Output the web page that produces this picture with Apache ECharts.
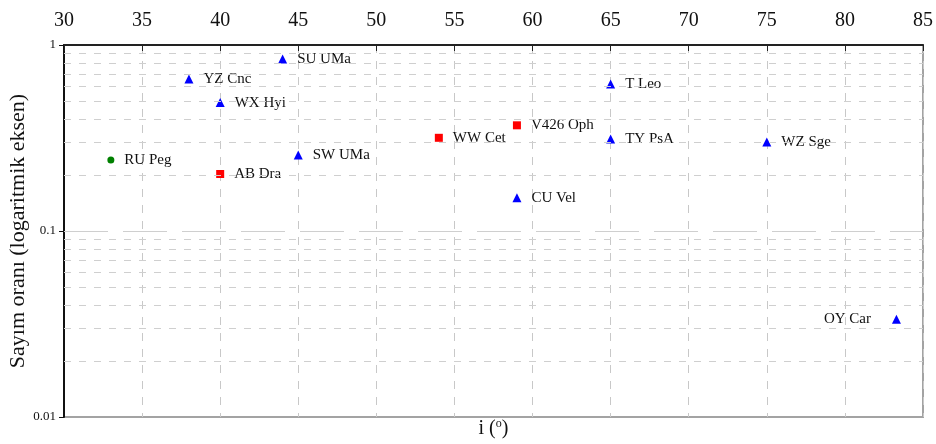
<!DOCTYPE html>
<html>
<head>
<meta charset="utf-8">
<script src="https://cdn.jsdelivr.net/npm/echarts@6/dist/echarts.min.js"></script>
<style>html,body{margin:0;padding:0;background:#fff;}#c{width:936px;height:444px;}</style>
</head>
<body>
<div id="c"></div>
<script>
// Data
const blueNames = ['SU UMa','YZ Cnc','WX Hyi','SW UMa','CU Vel','T Leo','TY PsA','WZ Sge','OY Car'];
const blueX     = [44, 38, 40, 45, 59, 65, 65, 75, 83.3];
const blueY     = [0.84, 0.656, 0.49, 0.256, 0.151, 0.617, 0.312, 0.301, 0.0335];
const redNames  = ['AB Dra','WW Cet','V426 Oph'];
const redX      = [40, 54, 59];
const redY      = [0.2025, 0.317, 0.37];
const greenNames = ['RU Peg'];
const greenX     = [33];
const greenY     = [0.241];
const majorGridValues = [0.1];
const minorGridValues = [0.02,0.03,0.04,0.05,0.06,0.07,0.08,0.09,0.2,0.3,0.4,0.5,0.6,0.7,0.8,0.9];
const xTicks = [30,35,40,45,50,55,60,65,70,75,80,85];

const FONT = '"Liberation Serif", "Times New Roman", serif';

function pts(names, xs, ys) {
  return names.map((n, i) => ({ name: n, value: [xs[i], ys[i]] }));
}
const labelRight = { show: true, position: 'right', distance: 10, formatter: '{b}', fontFamily: FONT, fontSize: 15, color: '#111' };

const blueData = pts(blueNames, blueX, blueY).map(d => d.name === 'OY Car'
  ? Object.assign(d, { label: { position: 'left', distance: 21 } }) : d);

const chart = echarts.init(document.getElementById('c'), null, { renderer: 'canvas' });
chart.setOption({
  animation: false,
  backgroundColor: '#fff',
  grid: { left: 64, right: 13, top: 45, bottom: 27, outerBoundsMode: 'none', containLabel: false,
    show: true, borderColor: '#a3a3a3', borderWidth: 2, backgroundColor: 'transparent' },
  xAxis: [{
    type: 'value', position: 'top', min: 30, max: 85, interval: 5,
    axisLine: { show: true, lineStyle: { color: '#222', width: 2 } },
    axisTick: { show: true, inside: true, length: 6, lineStyle: { color: '#222' } },
    axisLabel: { fontFamily: FONT, fontSize: 20, color: '#111', margin: 14,
      formatter: v => xTicks.includes(v) ? String(v) : '' },
    splitLine: { show: true, lineStyle: { color: '#c8c8c8', type: [8, 8], width: 1 } }
  }, {
    type: 'value', position: 'bottom', min: 30, max: 85, interval: 5,
    axisLine: { show: false }, axisTick: { show: false }, axisLabel: { show: false }, splitLine: { show: false },
    name: '{a|i (}{s|o}{a|)}', nameLocation: 'middle', nameGap: 1, nameMoveOverlap: false,
    nameTextStyle: { rich: {
      a: { fontFamily: FONT, fontSize: 20, color: '#111' },
      s: { fontFamily: FONT, fontSize: 12, color: '#111', verticalAlign: 'top', padding: [0, 0, 9, 0] }
    } }
  }],
  yAxis: {
    type: 'log', logBase: 10, min: 0.01, max: 1,
    axisLine: { show: true, lineStyle: { color: '#111', width: 2 } },
    axisTick: { show: true, length: 5, lineStyle: { color: '#111' } },
    axisLabel: { fontFamily: FONT, fontSize: 13, color: '#111', margin: 8,
      formatter: v => (v >= 0.999 ? '1' : (v > 0.05 ? '0.1' : '0.01')) },
    splitLine: { show: false },
    name: 'Sayım oranı (logaritmik eksen)', nameLocation: 'middle', nameGap: 35, nameMoveOverlap: false,
    nameTextStyle: { fontFamily: FONT, fontSize: 22, color: '#111' }
  },
  series: [{
    type: 'scatter', name: 'blue', symbol: 'triangle', symbolSize: 9,
    itemStyle: { color: '#0000ff', opacity: 1 }, label: labelRight,
    data: blueData,
    markLine: {
      silent: true, symbol: ['none', 'none'], label: { show: false },
      lineStyle: { color: '#cfcfcf', type: [44, 15], width: 1 },
      emphasis: { disabled: true },
      data: majorGridValues.map(v => ({ yAxis: v }))
    }
  }, {
    type: 'scatter', name: 'red', symbol: 'rect', symbolSize: 8,
    itemStyle: { color: '#ff0000', opacity: 1 }, label: labelRight,
    data: pts(redNames, redX, redY)
  }, {
    type: 'scatter', name: 'green', symbol: 'circle', symbolSize: 7,
    itemStyle: { color: '#008000', opacity: 1 }, label: labelRight,
    data: pts(greenNames, greenX, greenY),
    markLine: {
      silent: true, symbol: ['none', 'none'], label: { show: false },
      lineStyle: { color: '#cfcfcf', type: [7, 8], width: 1 },
      emphasis: { disabled: true },
      data: minorGridValues.map(v => ({ yAxis: v }))
    }
  }]
});
</script>
</body>
</html>
